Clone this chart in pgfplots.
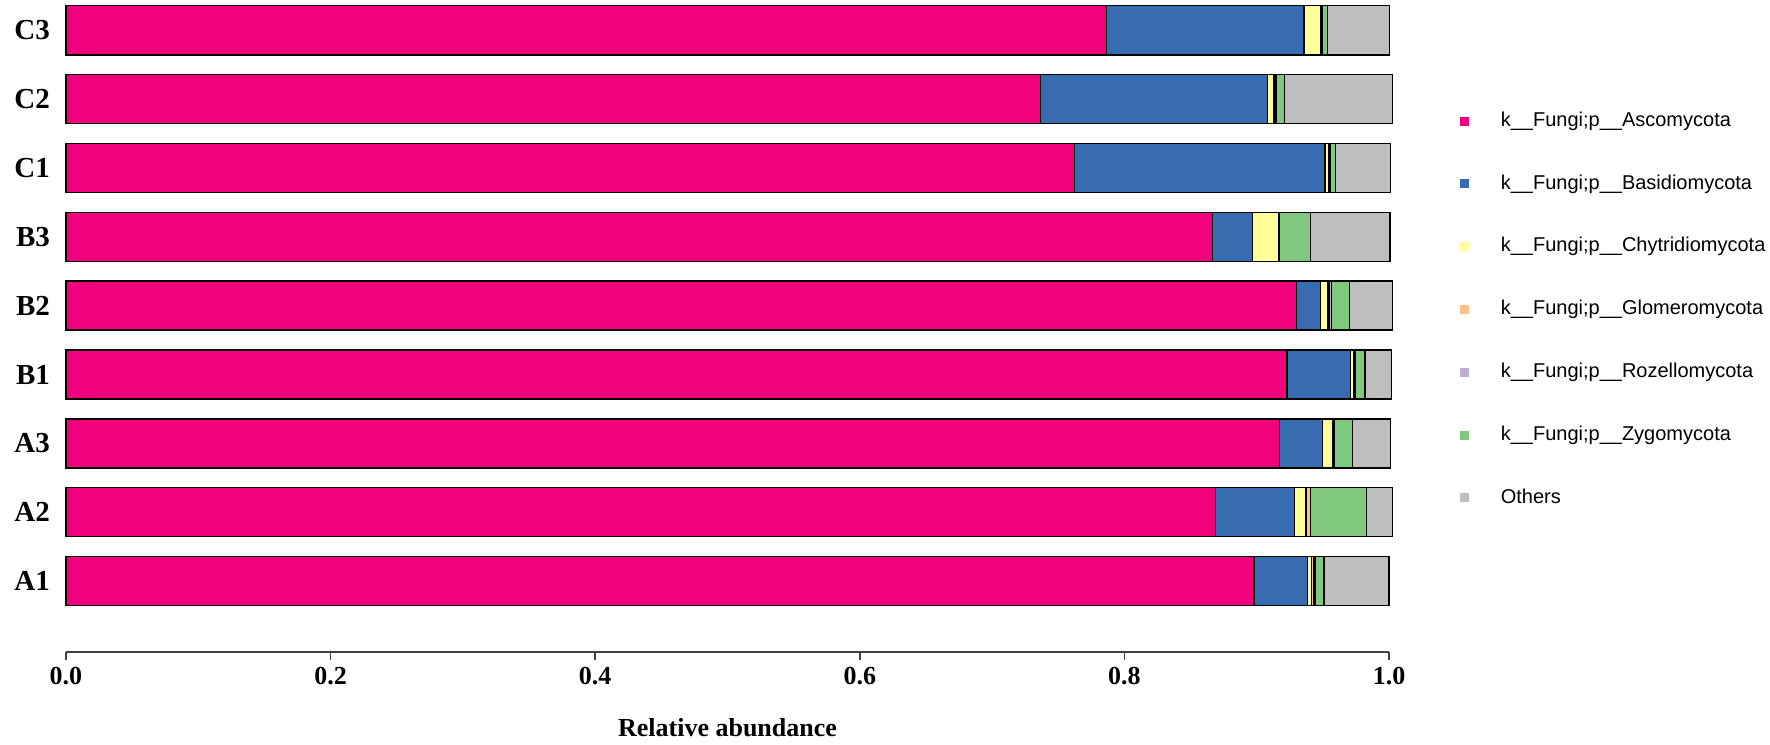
\documentclass[border=0pt]{standalone}
\usepackage{fontspec}
\setmainfont{Liberation Serif}
\newfontfamily\legfont{Liberation Sans}
\usepackage{pgfplots}
\pgfplotsset{compat=1.18}
\definecolor{cAsco}{HTML}{F0027F}
\definecolor{cBasi}{HTML}{386CB0}
\definecolor{cChyt}{HTML}{FFFF99}
\definecolor{cGlom}{HTML}{FDC086}
\definecolor{cRoze}{HTML}{BEAED4}
\definecolor{cZygo}{HTML}{7FC97F}
\definecolor{cOthe}{HTML}{BEBEBE}
\begin{document}
\begin{tikzpicture}
\begin{axis}[
  scale only axis,
  width=661.5pt, height=326pt,
  xbar stacked,
  bar width=24.5pt,
  xmin=0, xmax=1,
  ymin=-1.03, ymax=8.44,
  clip=false,
  axis x line*=bottom,
  axis y line*=left,
  y axis line style={draw=none},
  ytick={0,1,2,3,4,5,6,7,8},
  yticklabels={A1,A2,A3,B1,B2,B3,C1,C2,C3},
  ytick style={draw=none},
  yticklabel style={font=\fontsize{14.5}{14.5}\selectfont\bfseries, xshift=-0.3pt},
  xtick={0,0.2,0.4,0.6,0.8,1.0},
  xticklabel style={font=\fontsize{13}{13}\selectfont\bfseries},
  /pgf/number format/assume math mode=true,
  xticklabel={\pgfmathprintnumber[fixed,fixed zerofill,precision=1]{\tick}},
  tick align=outside,
  major tick length=4.2pt,
  x axis line style={line width=0.8pt, draw=black!75},
  xtick style={line width=0.8pt, draw=black!75},
  xlabel={\fontsize{13}{13}\selectfont\bfseries Relative abundance},
  xlabel style={yshift=-10pt},
  every axis plot/.append style={draw=black, line width=0.7pt},
  legend style={
    draw=none, fill=none,
    at={(1.049,0.835)}, anchor=north west,
    font=\legfont\fontsize{10}{10}\selectfont,
    nodes={inner sep=0pt, text height=7.2pt, text depth=2pt, anchor=west},
    row sep=22.2pt, column sep=0pt,
    legend cell align=left,
  },
  legend image code/.code={
    \fill[#1, draw=none] (0pt,-2.25pt) rectangle (4.5pt,2.25pt);
    \path[draw=none, fill=none] (0pt,0pt) -- (20.3pt,0pt);
  },
]
% order: A1,A2,A3,B1,B2,B3,C1,C2,C3 at y=0..8
\addplot[fill=cAsco] coordinates {(0.898,0) (0.869,1) (0.917,2) (0.923,3) (0.930,4) (0.8665,5) (0.7624,6) (0.7367,7) (0.7866,8)};
\addplot[fill=cBasi] coordinates {(0.0406,0) (0.0595,1) (0.0328,2) (0.0479,3) (0.0182,4) (0.0302,5) (0.1892,6) (0.1713,7) (0.1492,8)};
\addplot[fill=cChyt] coordinates {(0.0030,0) (0.0088,1) (0.0075,2) (0.0024,3) (0.0057,4) (0.0196,5) (0.0025,6) (0.0046,7) (0.0126,8)};
\addplot[fill=cGlom] coordinates {(0.0013,0) (0.0035,1) (0.0008,2) (0.0008,3) (0.0013,4) (0.0002,5) (0.0009,6) (0.0012,7) (0.0008,8)};
\addplot[fill=cRoze] coordinates {(0.0012,0) (0.0000,1) (0.0008,2) (0.0007,3) (0.0013,4) (0.0002,5) (0.0009,6) (0.0012,7) (0.0007,8)};
\addplot[fill=cZygo] coordinates {(0.0069,0) (0.0424,1) (0.0133,2) (0.0069,3) (0.0138,4) (0.0238,5) (0.0038,6) (0.0059,7) (0.0035,8)};
\addplot[fill=cOthe] coordinates {(0.0490,0) (0.0196,1) (0.0290,2) (0.0201,3) (0.0323,4) (0.0603,5) (0.0416,6) (0.0819,7) (0.0468,8)};
\legend{k\_\_Fungi;p\_\_Ascomycota, k\_\_Fungi;p\_\_Basidiomycota, k\_\_Fungi;p\_\_Chytridiomycota, k\_\_Fungi;p\_\_Glomeromycota, k\_\_Fungi;p\_\_Rozellomycota, k\_\_Fungi;p\_\_Zygomycota, Others}
\end{axis}
\pgfresetboundingbox
\path (-33pt,-46pt) rectangle (852pt,326pt);
\end{tikzpicture}
\end{document}
